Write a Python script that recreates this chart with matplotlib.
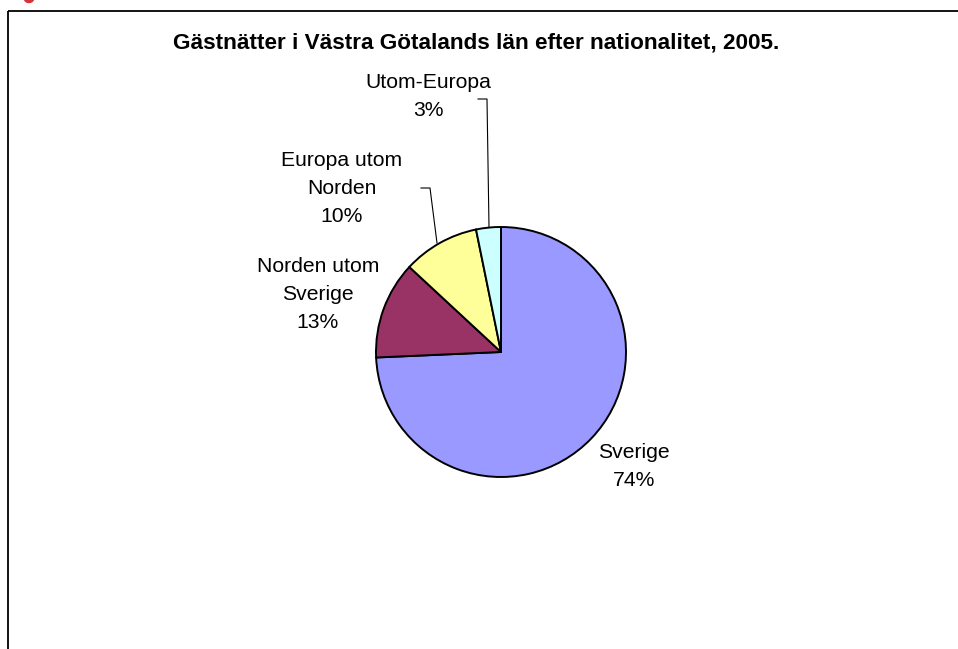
import matplotlib
matplotlib.use("Agg")
import matplotlib.pyplot as plt
from matplotlib.patches import Ellipse

plt.rcParams['font.family'] = ['Liberation Sans', 'DejaVu Sans']

title = "Gästnätter i Västra Götalands län efter nationalitet, 2005."
categories = ["Sverige", "Norden utom\nSverige", "Europa utom\nNorden", "Utom-Europa"]
values = [74.3, 12.6, 9.9, 3.2]
colors = ["#9999FF", "#993366", "#FFFF99", "#CCFFFF"]

W, H = 958, 649
fig = plt.figure(figsize=(W / 100, H / 100), dpi=100)
ax = fig.add_axes([0, 0, 1, 1])

def Y(py):
    return H - py

cx, cy, r = 501, 352, 125
ax.pie(values, colors=colors, startangle=90, counterclock=False,
       center=(cx, Y(cy)), radius=r, frame=True,
       wedgeprops=dict(edgecolor="black", linewidth=1.4))
ax.set_xlim(0, W)
ax.set_ylim(0, H)
ax.set_aspect('auto')
ax.axis('off')

# labels
label_pos = [(634, 467), (318, 295), (342, 189), (428, 97)]
for name, v, (px, py) in zip(categories, values, label_pos):
    ax.text(px, Y(py), f"{name}\n{round(v)}%", ha="center", va="center",
            multialignment="center", fontsize=15.2, linespacing=1.6, color="black")

# leader lines
ax.plot([421, 430, 437], [Y(188), Y(188), Y(243)], color="black", lw=0.8)
ax.plot([478, 487, 489], [Y(99), Y(99), Y(227)], color="black", lw=0.8)

# title
ax.text(476, Y(43), title, ha="center", va="center", fontsize=16.2, fontweight="bold")

# frame
ax.plot([8.5, W], [Y(11), Y(11)], color="black", lw=1.3, solid_capstyle="butt")
ax.plot([8.5, 8.5], [Y(11), 0], color="black", lw=1.3, solid_capstyle="butt")

ax.add_patch(Ellipse((29, Y(-1)), 9, 7, color="#d8313b", clip_on=True))

fig.savefig("out.png", dpi=100)
